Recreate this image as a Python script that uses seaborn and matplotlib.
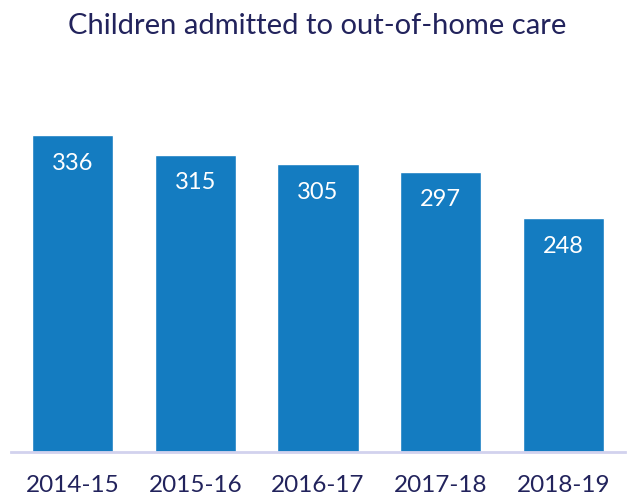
import matplotlib
matplotlib.use('Agg')
import matplotlib.pyplot as plt
import seaborn as sns
import pandas as pd

# === Datos ===
years = ['2014-15', '2015-16', '2016-17', '2017-18', '2018-19']
admitted = [336, 315, 305, 297, 248]

df = pd.DataFrame({'year': years, 'admitted': admitted})

sns.set_theme(style='white')
plt.rcParams['font.family'] = ['Lato', 'DejaVu Sans']

navy = '#22235c'
bar_color = '#147cc1'

fig = plt.figure(figsize=(6.34, 4.92), dpi=100)
ax = fig.add_axes([11 / 634, 1 - 452 / 492, 614 / 634, 339.6 / 492])

sns.barplot(data=df, x='year', y='admitted', color=bar_color, width=0.66,
            saturation=1, ax=ax)

# Etiquetas dentro de las barras
for i, v in enumerate(admitted):
    ax.annotate(str(v), (i, v), xytext=(0, -28), textcoords='offset pixels',
                ha='center', va='center', color='white', fontsize=17)

ax.set_xlim(-0.5, 4.5)
ax.set_ylim(0, 360)
ax.set_xlabel('')
ax.set_ylabel('')
ax.set_yticks([])
ax.tick_params(axis='x', length=0, pad=16.5, labelsize=17.5, labelcolor=navy)
for s in ['top', 'right', 'left']:
    ax.spines[s].set_visible(False)
ax.spines['bottom'].set_color('#d2d2ee')
ax.spines['bottom'].set_linewidth(2)

fig.text(0.5, 1 - 26 / 492, 'Children admitted to out-of-home care',
         ha='center', va='center', fontsize=21, color=navy)

fig.savefig('out.png', dpi=100)
